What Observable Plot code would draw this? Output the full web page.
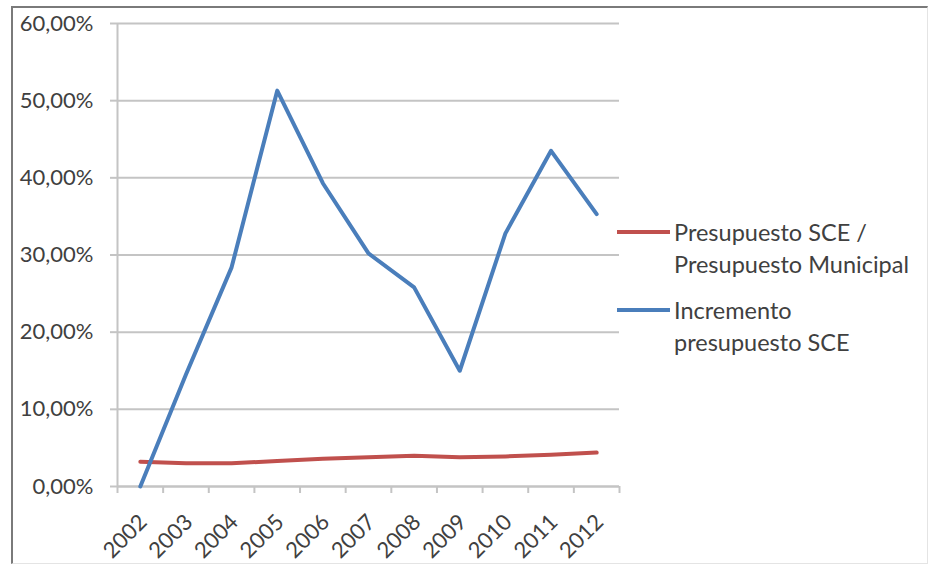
<!DOCTYPE html>
<html>
<head>
<meta charset="utf-8">
<script src="https://cdn.jsdelivr.net/npm/d3@7"></script>
<script src="https://cdn.jsdelivr.net/npm/@observablehq/plot@0.6"></script>
<style>
  html, body { margin: 0; padding: 0; background: #fff; }
  #wrap { position: relative; width: 930px; height: 564px; overflow: hidden; font-family: Lato, "Open Sans", sans-serif; }
  #frame { position: absolute; left: 11px; top: 6px; width: 914px; height: 555px;
           border-left: 2px solid #7a7a7a; border-top: 2px solid #7a7a7a;
           border-right: 1px solid #e4e4e4; border-bottom: 1px solid #e4e4e4; pointer-events: none; }
  .leg { position: absolute; left: 617px; font-size: 23.5px; color: #404040; line-height: 32px; }
  .leg .sw { position: absolute; left: 0; width: 53px; height: 4px; }
  .leg .tx { position: absolute; left: 57px; white-space: nowrap; }
</style>
</head>
<body>
<div id="wrap">
  <div id="chart"></div>
  <div id="frame"></div>
  <div id="legend"></div>
</div>
<script>
const years = [2002, 2003, 2004, 2005, 2006, 2007, 2008, 2009, 2010, 2011, 2012];
const ratioSCE = [0.032, 0.030, 0.030, 0.033, 0.036, 0.038, 0.040, 0.038, 0.039, 0.041, 0.044];
const incrementoSCE = [0.000, 0.145, 0.284, 0.513, 0.393, 0.302, 0.258, 0.150, 0.328, 0.435, 0.353];
const yTicks = [0, 0.1, 0.2, 0.3, 0.4, 0.5, 0.6];
const seriesNames = ["Presupuesto SCE / Presupuesto Municipal", "Incremento presupuesto SCE"];
const legendLines = [["Presupuesto SCE /", "Presupuesto Municipal"], ["Incremento", "presupuesto SCE"]];
const colors = ["#c0504d", "#4a7ebb"];

const rows = [];
years.forEach((yr, i) => {
  rows.push({year: yr, value: ratioSCE[i], series: seriesNames[0]});
  rows.push({year: yr, value: incrementoSCE[i], series: seriesNames[1]});
});
const boundaries = [years[0] - 0.5, ...years.map(y => y + 0.5)];

const chart = Plot.plot({
  width: 930,
  height: 564,
  marginLeft: 117,
  marginRight: 311,
  marginTop: 23,
  marginBottom: 78,
  style: {fontFamily: "Lato, 'Open Sans', sans-serif", fontSize: "22px", color: "#404040", background: "transparent"},
  x: {type: "linear", domain: [years[0] - 0.5, years[years.length - 1] + 0.5]},
  y: {domain: [0, 0.6]},
  color: {domain: seriesNames, range: colors},
  marks: [
    Plot.gridY(yTicks, {stroke: "#c4c4c4", strokeOpacity: 1, strokeWidth: 2}),
    Plot.axisY({ticks: yTicks, tickSize: 7, tickPadding: 17, stroke: "#c4c4c4", strokeWidth: 2, label: null,
      tickFormat: d => (d * 100).toFixed(2).replace(".", ",") + "%"}),
    Plot.ruleX([years[0] - 0.5], {stroke: "#c4c4c4", strokeWidth: 2}),
    Plot.ruleY([0], {stroke: "#c4c4c4", strokeWidth: 2}),
    Plot.axisX({ticks: boundaries, tickSize: 7, stroke: "#c4c4c4", strokeWidth: 2, tickFormat: () => "", label: null}),
    Plot.axisX({ticks: years, tickSize: 0, tickRotate: -45, tickPadding: 10, dx: 3, dy: 22, tickFormat: d => String(d), label: null, fill: "#404040"}),
    Plot.line(rows, {x: "year", y: "value", z: "series", stroke: "series", strokeWidth: 4, strokeLinejoin: "round"})
  ]
});
document.getElementById("chart").appendChild(chart);

const legend = document.getElementById("legend");
const legTops = [216, 294];
legendLines.forEach((lines, i) => {
  const d = document.createElement("div");
  d.className = "leg";
  d.style.top = legTops[i] + "px";
  const sw = document.createElement("div");
  sw.className = "sw";
  sw.style.top = "14px";
  sw.style.background = colors[i];
  d.appendChild(sw);
  lines.forEach((t, j) => {
    const tx = document.createElement("div");
    tx.className = "tx";
    tx.style.top = (j * 32) + "px";
    tx.textContent = t;
    d.appendChild(tx);
  });
  legend.appendChild(d);
});
</script>
</body>
</html>
